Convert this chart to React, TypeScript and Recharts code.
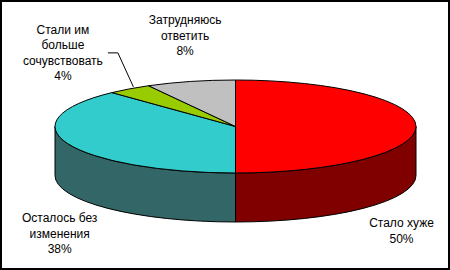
import React from 'react'
import { PieChart, Pie, Cell } from 'recharts'

const names = ['Стало хуже', 'Осталось без изменения', 'Стали им больше сочувствовать', 'Затрудняюсь ответить']
const values = [50, 38, 4, 8]
const labelLines = [
  ['Стало хуже', '50%'],
  ['Осталось без', 'изменения', '38%'],
  ['Стали им', 'больше', 'сочувствовать', '4%'],
  ['Затрудняюсь', 'ответить', '8%'],
]
const topColors = ['#FF0000', '#33CCCC', '#99CC00', '#C0C0C0']
const sideColors = ['#800000', '#336666', '#4D6600', '#606060']

const data = names.map((name, i) => ({ name, value: values[i] }))

// label placement relative to the slice's mid point on the top ellipse
const labelShift = [
  [-14.5, 100.5],
  [-8, 78.5],
  [-66.5, -55],
  [-5.5, -57],
]
const hasLeader = [false, false, true, false]

const RAD = Math.PI / 180
const TILT = 0.2576
const DEPTH = 49
const LINE_H = 15.5
const FONT = '"Liberation Sans", Arial, sans-serif'

function ellPt(cx: number, cy: number, r: number, a: number, dy = 0) {
  return [cx + r * Math.cos(a * RAD), cy - r * TILT * Math.sin(a * RAD) + dy]
}

function Slice3D(props: any) {
  const { cx, cy, outerRadius, startAngle, endAngle, payload } = props
  const idx = Math.max(0, names.indexOf(payload?.name ?? props.name))
  const rx = outerRadius
  const ry = outerRadius * TILT
  const a0 = Math.min(startAngle, endAngle)
  const a1 = Math.max(startAngle, endAngle)

  // side wall: only the front half of the rim (180..360 mod 360) is visible
  const sides: string[] = []
  for (let k = -2; k <= 1; k++) {
    const f0 = 180 + 360 * k
    const f1 = 360 + 360 * k
    const b0 = Math.max(a0, f0)
    const b1 = Math.min(a1, f1)
    if (b1 - b0 > 0.01) {
      const [x0, y0] = ellPt(cx, cy, rx, b0)
      const [x1, y1] = ellPt(cx, cy, rx, b1)
      sides.push(
        `M${x0},${y0} A${rx},${ry} 0 0 0 ${x1},${y1} L${x1},${y1 + DEPTH} A${rx},${ry} 0 0 1 ${x0},${y0 + DEPTH} Z`
      )
    }
  }

  const [sx, sy] = ellPt(cx, cy, rx, startAngle)
  const [ex, ey] = ellPt(cx, cy, rx, endAngle)
  const large = a1 - a0 > 180 ? 1 : 0
  const sweep = startAngle > endAngle ? 1 : 0
  const top = `M${cx},${cy} L${sx},${sy} A${rx},${ry} 0 ${large} ${sweep} ${ex},${ey} Z`

  return (
    <g>
      {sides.map((d, i) => (
        <path key={i} d={d} fill={sideColors[idx]} stroke="#000" strokeWidth={1} />
      ))}
      <path d={top} fill={topColors[idx]} stroke="#000" strokeWidth={1} />
    </g>
  )
}

function SliceLabel(props: any) {
  const { cx, cy, outerRadius, midAngle, index } = props
  const [ax, ay] = ellPt(cx, cy, outerRadius, midAngle)
  const tx = ax + labelShift[index][0]
  const ty = ay + labelShift[index][1]
  const lines = labelLines[index]
  return (
    <g>
      {hasLeader[index] && (
        <polyline
          points={`${tx + 45},${ty + 19} ${tx + 55},${ty + 19} ${ax + 4},${ay - 2}`}
          fill="none"
          stroke="#000"
          strokeWidth={1}
        />
      )}
      <text x={tx} y={ty} textAnchor="middle" fontFamily={FONT} fontSize={12} fill="#000">
        {lines.map((t, i) => (
          <tspan key={i} x={tx} y={ty + i * LINE_H}>
            {t}
          </tspan>
        ))}
      </text>
    </g>
  )
}

export default function App() {
  return (
    <div style={{ position: 'absolute', left: 0, top: 0, width: 450, height: 270, background: '#fff' }}>
      <PieChart width={450} height={270} margin={{ top: 0, right: 0, bottom: 0, left: 0 }}>
        <Pie
          data={data}
          dataKey="value"
          nameKey="name"
          cx={235.5}
          cy={126.5}
          outerRadius={180.5}
          startAngle={90}
          endAngle={-270}
          stroke="#000"
          shape={Slice3D}
          activeShape={Slice3D}
          inactiveShape={Slice3D}
          label={SliceLabel}
          labelLine={false}
          isAnimationActive={false}
        >
          {data.map((d, i) => (
            <Cell key={d.name} fill={topColors[i]} />
          ))}
        </Pie>
      </PieChart>
      <div
        style={{
          position: 'absolute',
          inset: 0,
          border: '2px solid #000',
          boxSizing: 'border-box',
          pointerEvents: 'none',
        }}
      />
    </div>
  )
}
